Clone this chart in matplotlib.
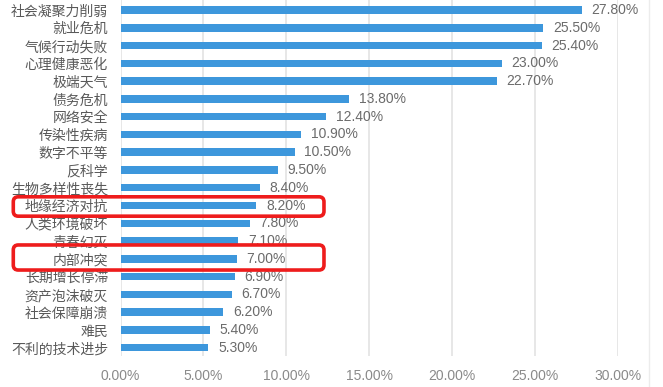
import matplotlib
matplotlib.use("Agg")
import matplotlib.pyplot as plt
import matplotlib.transforms as mtransforms
from matplotlib.patches import FancyBboxPatch
from matplotlib.lines import Line2D

plt.rcParams["font.family"] = ["Liberation Sans", "Noto Sans CJK SC", "DejaVu Sans"]

categories = [
    "社会凝聚力削弱", "就业危机", "气候行动失败", "心理健康恶化", "极端天气",
    "债务危机", "网络安全", "传染性疾病", "数字不平等", "反科学",
    "生物多样性丧失", "地缘经济对抗", "人类环境破坏", "青春幻灭", "内部冲突",
    "长期增长停滞", "资产泡沫破灭", "社会保障崩溃", "难民", "不利的技术进步",
]
values = [27.8, 25.5, 25.4, 23.0, 22.7, 13.8, 12.4, 10.9, 10.5, 9.5,
          8.4, 8.2, 7.8, 7.1, 7.0, 6.9, 6.7, 6.2, 5.4, 5.3]
xticks = [0, 5, 10, 15, 20, 25, 30]
highlighted = ["地缘经济对抗", "内部冲突"]

BAR_COLOR = "#3d97dc"
LABEL_COLOR = "#595959"
VALUE_COLOR = "#6b6b6b"
TICK_COLOR = "#8a8a8a"
GRID_COLOR = "#e3e3e3"

fig = plt.figure(figsize=(6.63, 3.87), dpi=100)
ax = fig.add_axes([120.5 / 663, 31.3 / 387, 497.5 / 663, 355.7 / 387])

pos = list(range(len(categories)))
ax.barh(pos, values, height=0.42, color=BAR_COLOR, zorder=3)

for p, v in zip(pos, values):
    ax.annotate(f"{v:.2f}%", (v, p), xytext=(7, 0), textcoords="offset points",
                ha="left", va="center", fontsize=10, color=VALUE_COLOR)

ax.set_xlim(0, 30)
ax.set_ylim(19.45, -0.563)
ax.set_xticks(xticks)
ax.set_xticklabels([f"{t:.2f}%" for t in xticks], fontsize=10, color=TICK_COLOR)
ax.set_yticks(pos)
ax.set_yticklabels(categories, fontsize=10, color=LABEL_COLOR)
ax.tick_params(axis="both", length=0)
ax.tick_params(axis="y", pad=9)
ax.tick_params(axis="x", pad=9.5)
ax.grid(axis="x", color=GRID_COLOR, linewidth=1.2, zorder=0)
for s in ax.spines.values():
    s.set_visible(False)

# red rounded boxes around highlighted rows (axes-x / data-y)
blend = mtransforms.blended_transform_factory(ax.transAxes, ax.transData)
box_rows = {"地缘经济对抗": (-0.49, 0.6), "内部冲突": (-0.78, 0.63)}
for name in highlighted:
    r = categories.index(name)
    up, down = box_rows[name]
    (x0, y0) = blend.transform((-0.2155, r + down))
    (x1, y1) = blend.transform((0.409, r + up))
    box = FancyBboxPatch((x0, y0), x1 - x0, y1 - y0,
                         boxstyle="round,pad=0,rounding_size=5",
                         fill=False, edgecolor="#ee1c1c", linewidth=2.6,
                         transform=mtransforms.IdentityTransform(), zorder=5)
    fig.add_artist(box)

fig.add_artist(Line2D([649 / 663, 649 / 663], [0, 1], color="#ececec",
                      linewidth=1, transform=fig.transFigure))

fig.savefig("out.png", dpi=100)
